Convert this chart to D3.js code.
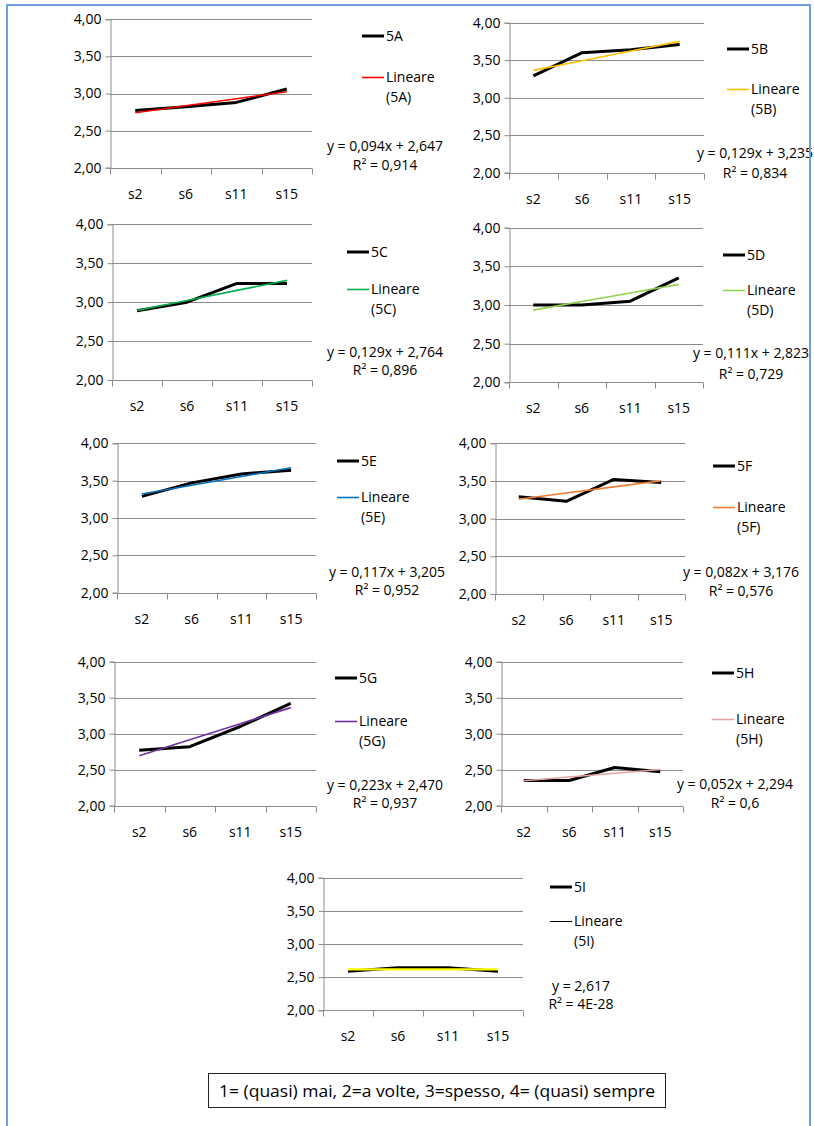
<!DOCTYPE html>
<html>
<head>
<meta charset="utf-8">
<script src="https://cdn.jsdelivr.net/npm/d3@7/dist/d3.min.js"></script>
<style>
  html, body { margin: 0; padding: 0; background: #ffffff; }
  svg { display: block; }
  text { font-family: "Open Sans", "Noto Sans", sans-serif; fill: #000; }
</style>
</head>
<body>
<svg id="chart" width="814" height="1126"></svg>
<script>
// Survey waves on the x axis
const categories = ["s2", "s6", "s11", "s15"];
const seriesNames = ["5A", "5B", "5C", "5D", "5E", "5F", "5G", "5H", "5I"];

// Mean score per wave for each item
const values5A = [2.77, 2.82, 2.88, 3.06];
const values5B = [3.29, 3.60, 3.64, 3.71];
const values5C = [2.89, 3.00, 3.24, 3.24];
const values5D = [3.00, 3.00, 3.05, 3.35];
const values5E = [3.29, 3.47, 3.59, 3.64];
const values5F = [3.29, 3.23, 3.52, 3.48];
const values5G = [2.77, 2.82, 3.10, 3.42];
const values5H = [2.35, 2.35, 2.53, 2.47];
const values5I = [2.59, 2.64, 2.64, 2.59];

// Linear trendline coefficients (y = slope*x + intercept, x = 1..4) and R²
const slopes = [0.094, 0.129, 0.129, 0.111, 0.117, 0.082, 0.223, 0.052, 0];
const intercepts = [2.647, 3.235, 2.764, 2.823, 3.205, 3.176, 2.470, 2.294, 2.617];
const r2Labels = ["0,914", "0,834", "0,896", "0,729", "0,952", "0,576", "0,937", "0,6", "4E-28"];

const yTicks = [2.0, 2.5, 3.0, 3.5, 4.0];
const yDomain = [2, 4];
const footnote = "1= (quasi) mai, 2=a volte, 3=spesso, 4= (quasi) sempre";

const allValues = [values5A, values5B, values5C, values5D, values5E, values5F, values5G, values5H, values5I];

// Styling
const trendColors = ["#ff0000", "#ffc000", "#00b050", "#92d050", "#0070c0", "#ed7d31", "#7030a0", "#e6a3a3", "#ffff00"];
const legendTrendColors = ["#ff0000", "#ffc000", "#00b050", "#92d050", "#0070c0", "#ed7d31", "#7030a0", "#e6a3a3", "#000000"];
const gridColor = "#8c8c8c";

// Panel placement: plot box, legend anchor, equation anchor
const panels = [
  { x0: 110, x1: 312, yT: 19.3,  yB: 167.7,  lx: 362, ly1: 36,  ly2: 77,  ex: 385, ey1: 145.7, ey2: 165 },
  { x0: 509, x1: 704, yT: 22.7,  yB: 172.7,  lx: 727, ly1: 49,  ly2: 89,  ex: 755, ey1: 153,   ey2: 173 },
  { x0: 112, x1: 312, yT: 224.3, yB: 380,    lx: 347, ly1: 252, ly2: 289, ex: 385, ey1: 351.7, ey2: 370 },
  { x0: 509, x1: 703, yT: 227.7, yB: 382.3,  lx: 723, ly1: 255, ly2: 290, ex: 751, ey1: 353,   ey2: 374 },
  { x0: 117, x1: 316, yT: 443.3, yB: 592.7,  lx: 337, ly1: 461, ly2: 497, ex: 387, ey1: 571.7, ey2: 590 },
  { x0: 495, x1: 685, yT: 443.3, yB: 594,    lx: 713, ly1: 466, ly2: 507, ex: 741, ey1: 572,   ey2: 591 },
  { x0: 114, x1: 316, yT: 661.7, yB: 805.7,  lx: 335, ly1: 678, ly2: 721, ex: 385, ey1: 785,   ey2: 803 },
  { x0: 501, x1: 683, yT: 661.7, yB: 805.7,  lx: 712, ly1: 673, ly2: 719, ex: 735, ey1: 784,   ey2: 803 },
  { x0: 323, x1: 523, yT: 877.7, yB: 1010.3, lx: 550, ly1: 887, ly2: 921, ex: 581, ey1: 985.7, ey2: 1004 }
];

const svg = d3.select("#chart");
const fontSize = 14;
const num = (v, d) => d3.format("." + d + "f")(v).replace(".", ",");

panels.forEach((p, i) => {
  const g = svg.append("g");
  const x = d3.scaleBand().domain(categories).range([p.x0, p.x1]);
  const y = d3.scaleLinear().domain(yDomain).range([p.yB, p.yT]);
  const cx = c => x(c) + x.bandwidth() / 2;

  // horizontal gridlines
  g.selectAll("line.grid").data(yTicks).join("line")
    .attr("x1", p.x0).attr("x2", p.x1)
    .attr("y1", d => Math.round(y(d)) + 0.5).attr("y2", d => Math.round(y(d)) + 0.5)
    .attr("stroke", gridColor).attr("stroke-width", 1);

  // y axis
  const ya = g.append("g").attr("transform", `translate(${Math.round(p.x0) + 0.5},0)`)
    .call(d3.axisLeft(y).tickValues(yTicks).tickSize(5).tickPadding(4).tickFormat(d => num(d, 2)));
  ya.selectAll("path, line").attr("stroke", gridColor);
  ya.selectAll("text").attr("font-size", fontSize).attr("font-family", "Open Sans").attr("fill", "#000");

  // x axis with ticks at band boundaries
  const xa = g.append("g").attr("transform", `translate(0,${Math.round(p.yB) + 0.5})`);
  xa.append("line").attr("x1", p.x0).attr("x2", p.x1).attr("y1", 0).attr("y2", 0).attr("stroke", gridColor);
  const bounds = categories.map(c => x(c)).concat([p.x1]);
  xa.selectAll("line.tk").data(bounds).join("line")
    .attr("x1", d => Math.round(d) + 0.5).attr("x2", d => Math.round(d) + 0.5).attr("y1", 0).attr("y2", 6)
    .attr("stroke", gridColor);
  xa.selectAll("text").data(categories).join("text")
    .attr("x", d => cx(d)).attr("y", 26).attr("dy", "0.35em")
    .attr("text-anchor", "middle").attr("font-size", fontSize).text(d => d);

  // data line
  const line = d3.line().x((d, k) => cx(categories[k])).y(d => y(d));
  g.append("path").datum(allValues[i]).attr("d", line)
    .attr("fill", "none").attr("stroke", "#000").attr("stroke-width", 3)
    .attr("stroke-linejoin", "round");

  // linear trendline
  const trend = categories.map((c, k) => slopes[i] * (k + 1) + intercepts[i]);
  g.append("path").datum(trend).attr("d", line)
    .attr("fill", "none").attr("stroke", trendColors[i]).attr("stroke-width", i === 8 ? 2.2 : 1.6);

  // legend
  g.append("line").attr("x1", p.lx).attr("x2", p.lx + 22).attr("y1", p.ly1).attr("y2", p.ly1)
    .attr("stroke", "#000").attr("stroke-width", 3);
  g.append("text").attr("x", p.lx + 24).attr("y", p.ly1).attr("dy", "0.35em")
    .attr("font-size", fontSize).text(seriesNames[i]);
  g.append("line").attr("x1", p.lx).attr("x2", p.lx + 22).attr("y1", p.ly2 + 0.5).attr("y2", p.ly2 + 0.5)
    .attr("stroke", legendTrendColors[i]).attr("stroke-width", i === 8 ? 1 : 1.6);
  g.append("text").attr("x", p.lx + 24).attr("y", p.ly2).attr("dy", "0.35em")
    .attr("font-size", fontSize).text("Lineare");
  g.append("text").attr("x", p.lx + 24).attr("y", p.ly2 + 20.5).attr("dy", "0.35em")
    .attr("font-size", fontSize).text(`(${seriesNames[i]})`);

  // trendline equation
  const eq = slopes[i] === 0
    ? `y = ${num(intercepts[i], 3)}`
    : `y = ${num(slopes[i], 3)}x + ${num(intercepts[i], 3)}`;
  g.append("text").attr("x", p.ex).attr("y", p.ey1).attr("dy", "0.35em")
    .attr("text-anchor", "middle").attr("font-size", fontSize).text(eq);
  g.append("text").attr("x", p.ex).attr("y", p.ey2).attr("dy", "0.35em")
    .attr("text-anchor", "middle").attr("font-size", fontSize).text(`R² = ${r2Labels[i]}`);
});

// scale legend box
svg.append("rect").attr("x", 208.5).attr("y", 1073.5).attr("width", 457).attr("height", 34)
  .attr("fill", "#fff").attr("stroke", "#222").attr("stroke-width", 1);
svg.append("text").attr("x", 437).attr("y", 1091).attr("dy", "0.35em")
  .attr("text-anchor", "middle").attr("font-size", 16)
  .attr("textLength", 436).attr("lengthAdjust", "spacingAndGlyphs").text(footnote);

// outer frame
svg.append("rect").attr("x", 7).attr("y", 5).attr("width", 803).attr("height", 1140)
  .attr("fill", "none").attr("stroke", "#6f9fe0").attr("stroke-width", 2);
</script>
</body>
</html>
